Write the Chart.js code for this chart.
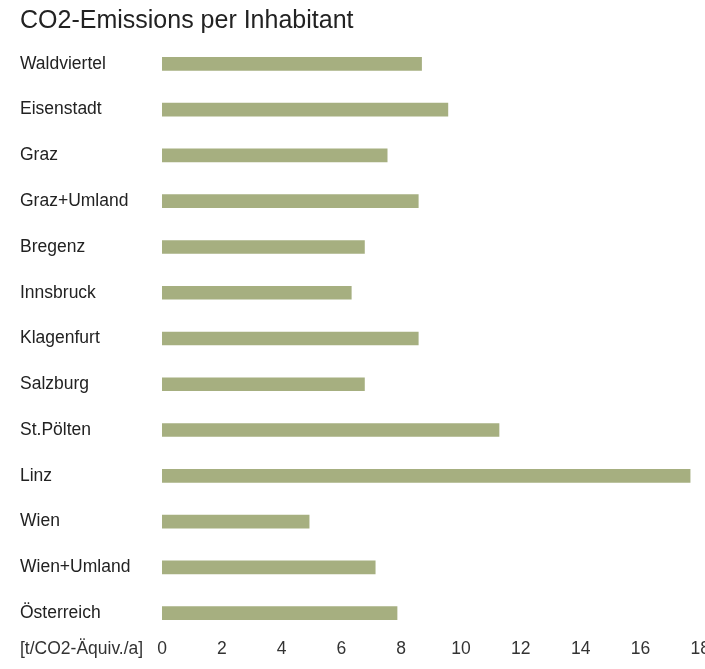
<!DOCTYPE html>
<html>
<head>
<meta charset="utf-8">
<script src="https://cdn.jsdelivr.net/npm/chart.js@4"></script>
<style>
  body { margin: 0; overflow: hidden; background: #fff; }
  #wrap { width: 713px; height: 669px; }
</style>
</head>
<body>
<div id="wrap"><canvas id="myChart"></canvas></div>
<script>
var regions = ['Waldviertel', 'Eisenstadt', 'Graz', 'Graz+Umland', 'Bregenz', 'Innsbruck',
    'Klagenfurt', 'Salzburg', 'St.Pölten', 'Linz', 'Wien', 'Wien+Umland', 'Österreich'];
var emissions = [8.68, 9.56, 7.53, 8.57, 6.77, 6.33, 8.57, 6.77, 11.27, 17.66, 4.92, 7.13, 7.86];
var unitLabel = '[t/CO2-Äquiv./a]';

Chart.defaults.font.family = '"Liberation Sans", Arial, sans-serif';
Chart.defaults.color = '#333';

// unit text next to the x tick labels
var unitPlugin = {
    id: 'unitLabel',
    afterDraw: function (chart) {
        var c = chart.ctx, xs = chart.scales.x;
        c.save();
        c.font = '17.5px "Liberation Sans", Arial, sans-serif';
        c.fillStyle = '#333';
        c.textBaseline = 'middle';
        c.textAlign = 'left';
        c.fillText(unitLabel, 20, xs.top + 3 + 10.5);
        c.restore();
    }
};

var ctx = document.getElementById('myChart').getContext('2d');
var myChart = new Chart(ctx, {
    type: 'bar',
    data: {
        labels: regions,
        datasets: [{
            label: 'CO2',
            data: emissions,
            backgroundColor: 'rgb(166,175,128)',
            barThickness: 13
        }]
    },
    plugins: [unitPlugin],
    options: {
        indexAxis: 'y',
        responsive: true,
        maintainAspectRatio: false,
        animation: false,
        layout: { padding: { left: 20, top: 4, right: 0, bottom: 6 } },
        plugins: {
            legend: { display: false },
            tooltip: { enabled: false },
            title: {
                display: true,
                text: 'CO2-Emissions per Inhabitant',
                align: 'start',
                color: '#222',
                font: { size: 25, weight: 'normal' },
                padding: { top: 2, bottom: 5 }
            }
        },
        scales: {
            x: {
                min: 0,
                max: 18,
                ticks: { stepSize: 2, font: { size: 17.5 }, color: '#333', maxRotation: 0 },
                grid: { display: false, drawTicks: false },
                border: { display: false }
            },
            y: {
                ticks: { crossAlign: 'far', font: { size: 17.5 }, color: '#222' },
                grid: { display: false, drawTicks: false },
                border: { display: false },
                afterFit: function (s) { s.width = 142; }
            }
        }
    }
});
</script>
</body>
</html>
